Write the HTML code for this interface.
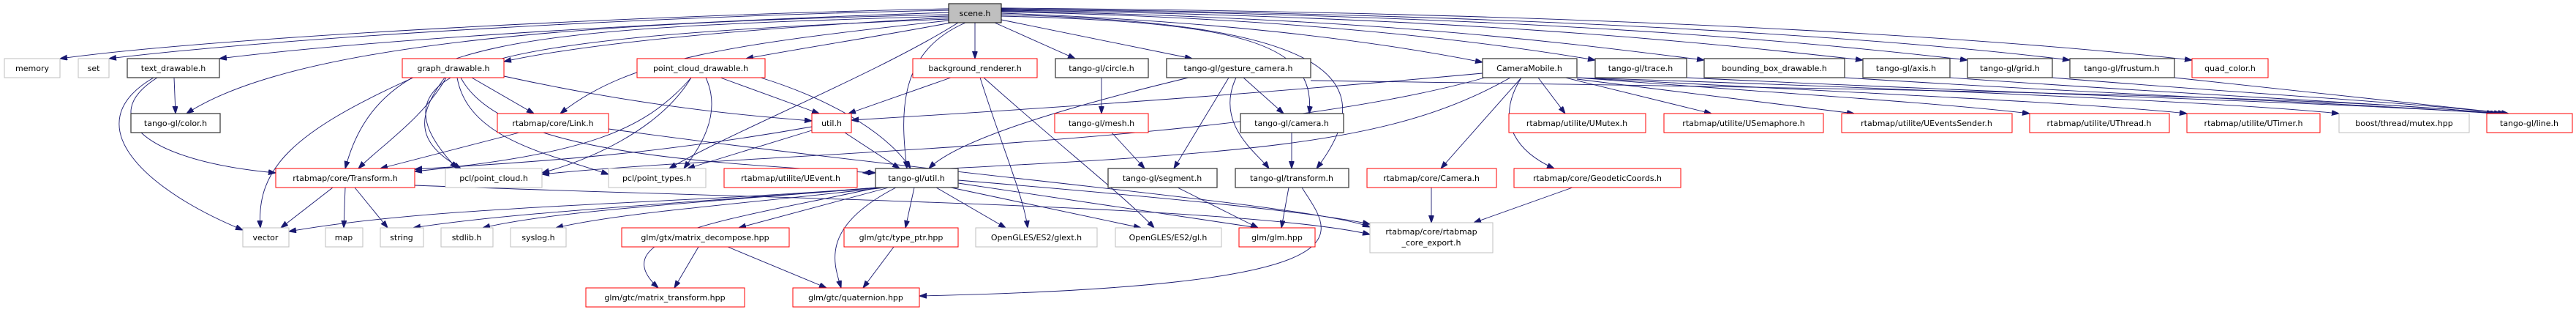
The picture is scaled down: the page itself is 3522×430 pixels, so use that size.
<!DOCTYPE html>
<html><head><meta charset="utf-8"><style>
html,body{margin:0;padding:0;background:#fff;}
svg text{font-family:"DejaVu Sans","Liberation Sans",sans-serif;font-size:11px;fill:#000;text-anchor:middle;}
.r{fill:#fff;stroke:#ff0000;stroke-width:1}
.b{fill:#fff;stroke:#404040;stroke-width:1.3}
.g{fill:#fff;stroke:#bfbfbf;stroke-width:1}
.e{fill:none;stroke:#191970;stroke-width:0.9;marker-end:url(#a)}
</style></head><body>
<svg width="3522" height="425" viewBox="0 0 3522 425" xmlns="http://www.w3.org/2000/svg">
<defs><marker id="a" markerUnits="userSpaceOnUse" markerWidth="11" markerHeight="8" refX="10" refY="3.5" orient="auto"><path d="M0,0 L10,3.5 L0,7 z" fill="#191970" stroke="#191970"/></marker></defs>
<g>
<!-- scene edges -->
<path class="e" d="M1297,12 C900,20 300,50 82,80"/>
<path class="e" d="M1297,14 C900,22 400,50 149,80"/>
<path class="e" d="M1297,17 C900,30 500,55 300,80"/>
<path class="e" d="M1297,20 C800,30 400,60 255,155"/>
<path class="e" d="M1297,24 C1000,40 800,60 689,84"/>
<path class="e" d="M1297,22 C700,40 520,50 472,230"/>
<path class="e" d="M1297,26 C700,50 480,80 625,230"/>
<path class="e" d="M1300,31 C1200,50 1100,65 1020,80"/>
<path class="e" d="M1297,28 C1000,60 860,80 766,155"/>
<path class="e" d="M1310,31 C1200,100 1000,180 915,230"/>
<path class="e" d="M1320,31 C1230,70 1230,150 1240,230"/>
<path class="e" d="M1333,31 L1333,80"/>
<path class="e" d="M1360,31 L1470,80"/>
<path class="e" d="M1369,27 L1630,80"/>
<path class="e" d="M1369,22 C1700,30 1800,60 1790,155"/>
<path class="e" d="M1369,20 C1800,30 1900,100 1800,230"/>
<path class="e" d="M1369,18 C1700,30 1900,60 2027,85"/>
<path class="e" d="M1369,16 C1800,25 2050,60 2181,82"/>
<path class="e" d="M1369,15 C1900,25 2150,60 2330,82"/>
<path class="e" d="M1369,14 C2000,22 2350,60 2547,82"/>
<path class="e" d="M1369,13 C2100,20 2500,60 2690,82"/>
<path class="e" d="M1369,12 C2200,20 2650,60 2830,82"/>
<path class="e" d="M1369,11 C2300,18 2800,60 2997,82"/>
<!-- text_drawable -->
<path class="e" d="M238,106 L240,155"/>
<path class="e" d="M215,106 C130,160 200,220 377,236"/>
<path class="e" d="M210,106 C100,170 200,260 332,314"/>
<!-- graph_drawable -->
<path class="e" d="M645,106 L730,155"/>
<path class="e" d="M610,106 C580,160 520,200 490,230"/>
<path class="e" d="M565,106 C400,180 350,230 356,311"/>
<path class="e" d="M608,106 C560,170 580,200 630,230"/>
<path class="e" d="M625,106 C640,190 750,210 832,238"/>
<path class="e" d="M689,104 C900,150 1050,160 1110,165"/>
<path class="e" d="M630,106 C680,200 900,220 1197,236"/>
<!-- point_cloud_drawable -->
<path class="e" d="M985,106 L1120,155"/>
<path class="e" d="M1040,106 C1150,140 1220,190 1245,230"/>
<path class="e" d="M945,106 C880,180 800,210 567,234"/>
<path class="e" d="M945,106 C900,180 800,220 741,236"/>
<path class="e" d="M965,106 C990,160 950,210 935,230"/>
<!-- Link -->
<path class="e" d="M710,181 L520,230"/>
<path class="e" d="M832,176 C1300,240 1800,280 1873,310"/>
<!-- Transform -->
<path class="e" d="M455,256 L384,311"/>
<path class="e" d="M472,256 L470,311"/>
<path class="e" d="M485,256 L530,311"/>
<path class="e" d="M567,253 C1000,270 1700,280 1873,320"/>
<!-- util.h -->
<path class="e" d="M1155,181 L1230,230"/>
<path class="e" d="M1110,173 C900,210 750,220 567,231"/>
<path class="e" d="M1110,178 L940,230"/>
<!-- background_renderer -->
<path class="e" d="M1300,106 L1160,155"/>
<path class="e" d="M1340,106 C1370,200 1400,270 1405,311"/>
<path class="e" d="M1345,106 C1450,200 1540,270 1578,311"/>
<!-- circle/mesh/segment -->
<path class="e" d="M1506,106 L1506,155"/>
<path class="e" d="M1520,181 L1565,230"/>
<path class="e" d="M1610,256 L1720,311"/>
<!-- gesture_camera -->
<path class="e" d="M1700,106 L1755,155"/>
<path class="e" d="M1680,106 L1605,230"/>
<path class="e" d="M1690,106 C1660,170 1720,210 1735,230"/>
<path class="e" d="M1625,106 C1400,160 1300,200 1270,230"/>
<!-- camera/transform -->
<path class="e" d="M1766,181 L1766,230"/>
<path class="e" d="M1762,256 L1752,311"/>
<path class="e" d="M1780,256 C1820,320 1900,390 1257,404"/>
<!-- tango-gl/util -->
<path class="e" d="M1200,256 C900,280 600,280 395,316"/>
<path class="e" d="M1200,256 C900,280 700,290 565,311"/>
<path class="e" d="M1205,256 C900,280 750,290 660,311"/>
<path class="e" d="M1210,256 C1000,280 850,290 760,311"/>
<path class="e" d="M1215,256 L1010,311"/>
<path class="e" d="M1250,256 L1238,311"/>
<path class="e" d="M1280,256 L1375,311"/>
<path class="e" d="M1300,256 L1560,311"/>
<path class="e" d="M1310,250 L1720,311"/>
<path class="e" d="M1225,256 C1120,310 1140,360 1150,393"/>
<path class="e" d="M1200,256 C1000,300 820,320 900,393"/>
<path class="e" d="M1310,246 C1600,270 1800,290 1873,306"/>
<!-- decompose/type_ptr -->
<path class="e" d="M955,337 L922,393"/>
<path class="e" d="M995,337 L1130,393"/>
<path class="e" d="M1222,337 L1180,393"/>
<!-- CameraMobile -->
<path class="e" d="M2027,100 C1700,130 1400,150 1164,164"/>
<path class="e" d="M2065,106 C1900,200 1700,210 1180,236"/>
<path class="e" d="M2080,106 L1970,230"/>
<path class="e" d="M2080,106 C2040,170 2080,210 2125,230"/>
<path class="e" d="M2103,106 L2140,155"/>
<path class="e" d="M2140,106 L2340,155"/>
<path class="e" d="M2156,108 L2535,155"/>
<path class="e" d="M2156,106 C2400,125 2650,140 2775,155"/>
<path class="e" d="M2156,106 C2500,125 2850,140 2990,155"/>
<path class="e" d="M2156,106 C2600,120 3050,140 3198,155"/>
<path class="e" d="M2030,106 C1700,200 1000,210 741,238"/>
<!-- Camera/Geo -->
<path class="e" d="M1957,256 L1957,304"/>
<path class="e" d="M2150,256 L2015,304"/>
<!-- line.h -->
<path class="e" d="M2306,106 C2800,130 3200,140 3410,155"/>
<path class="e" d="M2522,106 C2900,130 3200,140 3415,155"/>
<path class="e" d="M2666,106 C3000,130 3250,140 3420,155"/>
<path class="e" d="M2806,106 C3100,130 3300,140 3425,155"/>
<path class="e" d="M2973,106 L3430,155"/>
<path class="e" d="M1792,110 C2500,120 3200,130 3410,155"/>
</g>
<g>
<rect x="1297" y="5" width="72" height="26" fill="#bfbfbf" stroke="#000"/><text x="1333" y="22">scene.h</text>
<rect class="g" x="6" y="80" width="76" height="26"/><text x="44" y="97">memory</text>
<rect class="g" x="107" y="80" width="42" height="26"/><text x="128" y="97">set</text>
<rect class="b" x="174" y="80" width="126" height="26"/><text x="237" y="97">text_drawable.h</text>
<rect class="r" x="550" y="80" width="139" height="26"/><text x="620" y="97">graph_drawable.h</text>
<rect class="r" x="871" y="80" width="175" height="26"/><text x="958" y="97">point_cloud_drawable.h</text>
<rect class="r" x="1248" y="80" width="170" height="26"/><text x="1333" y="97">background_renderer.h</text>
<rect class="b" x="1443" y="80" width="127" height="26"/><text x="1506" y="97">tango-gl/circle.h</text>
<rect class="b" x="1595" y="80" width="197" height="26"/><text x="1693" y="97">tango-gl/gesture_camera.h</text>
<rect class="b" x="2027" y="80" width="129" height="26"/><text x="2091" y="97">CameraMobile.h</text>
<rect class="b" x="2181" y="80" width="125" height="26"/><text x="2243" y="97">tango-gl/trace.h</text>
<rect class="b" x="2330" y="80" width="192" height="26"/><text x="2426" y="97">bounding_box_drawable.h</text>
<rect class="b" x="2547" y="80" width="119" height="26"/><text x="2606" y="97">tango-gl/axis.h</text>
<rect class="b" x="2690" y="80" width="116" height="26"/><text x="2748" y="97">tango-gl/grid.h</text>
<rect class="b" x="2830" y="80" width="143" height="26"/><text x="2901" y="97">tango-gl/frustum.h</text>
<rect class="r" x="2997" y="80" width="104" height="26"/><text x="3049" y="97">quad_color.h</text>

<rect class="b" x="179" y="155" width="122" height="26"/><text x="240" y="172">tango-gl/color.h</text>
<rect class="r" x="680" y="155" width="152" height="26"/><text x="756" y="172">rtabmap/core/Link.h</text>
<rect class="r" x="1110" y="155" width="54" height="26"/><text x="1137" y="172">util.h</text>
<rect class="r" x="1442" y="155" width="128" height="26"/><text x="1506" y="172">tango-gl/mesh.h</text>
<rect class="b" x="1696" y="155" width="141" height="26"/><text x="1766" y="172">tango-gl/camera.h</text>
<rect class="r" x="2063" y="155" width="187" height="26"/><text x="2156" y="172">rtabmap/utilite/UMutex.h</text>
<rect class="r" x="2275" y="155" width="218" height="26"/><text x="2384" y="172">rtabmap/utilite/USemaphore.h</text>
<rect class="r" x="2518" y="155" width="233" height="26"/><text x="2634" y="172">rtabmap/utilite/UEventsSender.h</text>
<rect class="r" x="2775" y="155" width="191" height="26"/><text x="2870" y="172">rtabmap/utilite/UThread.h</text>
<rect class="r" x="2990" y="155" width="182" height="26"/><text x="3081" y="172">rtabmap/utilite/UTimer.h</text>
<rect class="g" x="3198" y="155" width="178" height="26"/><text x="3287" y="172">boost/thread/mutex.hpp</text>
<rect class="r" x="3400" y="155" width="117" height="26"/><text x="3458" y="172">tango-gl/line.h</text>

<rect class="r" x="377" y="230" width="190" height="26"/><text x="472" y="247">rtabmap/core/Transform.h</text>
<rect class="g" x="609" y="230" width="132" height="26"/><text x="675" y="247">pcl/point_cloud.h</text>
<rect class="g" x="832" y="230" width="133" height="26"/><text x="898" y="247">pcl/point_types.h</text>
<rect class="r" x="990" y="230" width="182" height="26"/><text x="1081" y="247">rtabmap/utilite/UEvent.h</text>
<rect class="b" x="1197" y="230" width="113" height="26"/><text x="1253" y="247">tango-gl/util.h</text>
<rect class="b" x="1515" y="230" width="149" height="26"/><text x="1589" y="247">tango-gl/segment.h</text>
<rect class="b" x="1689" y="230" width="155" height="26"/><text x="1766" y="247">tango-gl/transform.h</text>
<rect class="r" x="1869" y="230" width="177" height="26"/><text x="1957" y="247">rtabmap/core/Camera.h</text>
<rect class="r" x="2070" y="230" width="228" height="26"/><text x="2184" y="247">rtabmap/core/GeodeticCoords.h</text>

<rect class="g" x="332" y="311" width="63" height="26"/><text x="363" y="328">vector</text>
<rect class="g" x="445" y="311" width="51" height="26"/><text x="470" y="328">map</text>
<rect class="g" x="520" y="311" width="59" height="26"/><text x="549" y="328">string</text>
<rect class="g" x="603" y="311" width="71" height="26"/><text x="638" y="328">stdlib.h</text>
<rect class="g" x="698" y="311" width="76" height="26"/><text x="736" y="328">syslog.h</text>
<rect class="r" x="850" y="311" width="229" height="26"/><text x="964" y="328">glm/gtx/matrix_decompose.hpp</text>
<rect class="r" x="1154" y="311" width="156" height="26"/><text x="1232" y="328">glm/gtc/type_ptr.hpp</text>
<rect class="g" x="1334" y="311" width="166" height="26"/><text x="1417" y="328">OpenGLES/ES2/glext.h</text>
<rect class="g" x="1525" y="311" width="145" height="26"/><text x="1597" y="328">OpenGLES/ES2/gl.h</text>
<rect class="r" x="1694" y="311" width="104" height="26"/><text x="1746" y="328">glm/glm.hpp</text>
<rect class="g" x="1873" y="304" width="168" height="41"/><text x="1957" y="320">rtabmap/core/rtabmap</text><text x="1957" y="335">_core_export.h</text>

<rect class="r" x="801" y="393" width="217" height="26"/><text x="909" y="410">glm/gtc/matrix_transform.hpp</text>
<rect class="r" x="1084" y="393" width="173" height="26"/><text x="1170" y="410">glm/gtc/quaternion.hpp</text>
</g>
</svg>
</body></html>
